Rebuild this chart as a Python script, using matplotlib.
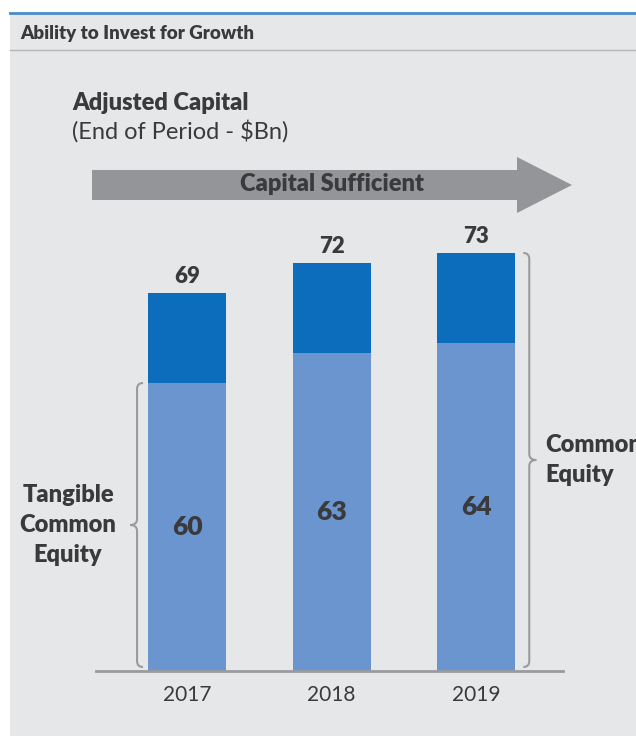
import matplotlib.pyplot as plt
from matplotlib.path import Path
from matplotlib.patches import PathPatch, Rectangle, Polygon
from matplotlib.lines import Line2D

# data
years = ["2017", "2018", "2019"]
tangible = [60, 63, 64]      # tangible common equity ($Bn)
other = [9, 9, 9]            # rest of adjusted capital ($Bn)
totals = [t + o for t, o in zip(tangible, other)]

W, H = 636, 736
PANEL = "#e6e7e9"
TXT = "#3a3a3c"
LIGHT = "#6a95cf"
DARK = "#0b6dbb"
GREY = "#9a9b9e"
BOLD = "heavy"
plt.rcParams["font.family"] = ["Lato", "DejaVu Sans"]

fig = plt.figure(figsize=(W / 100, H / 100), dpi=100)
fig.patch.set_facecolor("white")


def fx(p):
    return p / W


def fy(p):
    return 1 - p / H


# panel, top rule and header separator
fig.add_artist(Rectangle((fx(10), 0), 1 - fx(10), fy(13), transform=fig.transFigure,
                         facecolor=PANEL, edgecolor="none", zorder=0))
fig.add_artist(Line2D([fx(10), 1], [fy(13), fy(13)], transform=fig.transFigure,
                      color="#4a8cc6", lw=2))
fig.add_artist(Line2D([fx(10), 1], [fy(50), fy(50)], transform=fig.transFigure,
                      color="#b3b5b8", lw=1))
fig.text(fx(20), fy(33), "Ability to Invest for Growth", fontsize=13.5, fontweight=BOLD,
         color=TXT, va="center")

fig.text(fx(72), fy(103), "Adjusted Capital", fontsize=17, fontweight=BOLD,
         color=TXT, va="center")
fig.text(fx(72), fy(131), "(End of Period - $Bn)", fontsize=17, color=TXT, va="center")

# big arrow
arrow_px = [(92, 170), (517, 170), (517, 157), (572, 185), (517, 213), (517, 200), (92, 200)]
fig.add_artist(Polygon([(fx(a), fy(b)) for a, b in arrow_px], closed=True,
                       transform=fig.transFigure, facecolor="#939598", edgecolor="none"))
fig.text(fx(332), fy(184), "Capital Sufficient", fontsize=17, fontweight=BOLD,
         color=TXT, ha="center", va="center")

# bars
ax_l, ax_r, ax_b, ax_t = 96, 563, 671, 140
ax = fig.add_axes([fx(ax_l), fy(ax_b), (ax_r - ax_l) / W, (ax_b - ax_t) / H])
ax.set_facecolor("none")
ylo = 31.2
ax.set_ylim(ylo, ylo + (ax_b - ax_t) / 10)
ax.set_xlim(-0.63, 2.60)
x = list(range(len(years)))
bw = 0.54
ax.bar(x, tangible, width=bw, color=LIGHT)
ax.bar(x, other, bottom=tangible, width=bw, color=DARK)

for s in ["top", "left", "right"]:
    ax.spines[s].set_visible(False)
ax.spines["bottom"].set_color(GREY)
ax.spines["bottom"].set_linewidth(2)
ax.set_yticks([])
ax.set_xticks(x, years)
ax.tick_params(axis="x", length=0, pad=10, labelsize=15, labelcolor=TXT)

for i in x:
    ax.text(i, (ylo + tangible[i]) / 2, str(tangible[i]), ha="center", va="center",
            fontsize=19, fontweight=BOLD, color=TXT)
    ax.annotate(str(totals[i]), (i, totals[i]), xytext=(0, 12), textcoords="offset points",
                ha="center", va="center", fontsize=16, fontweight=BOLD, color=TXT)

# curly braces
xpp = (ax.get_xlim()[1] - ax.get_xlim()[0]) / (ax_r - ax_l)
ypp = 0.1


def brace(xline, ytop, ybot, sign):
    e, t, r = 6 * xpp * sign, 7 * xpp * sign, 6 * ypp
    ymid = (ytop + ybot) / 2
    verts = [(xline + e, ytop), (xline, ytop), (xline, ytop - r),
             (xline, ymid + r), (xline, ymid), (xline - t, ymid),
             (xline, ymid), (xline, ymid - r),
             (xline, ybot + r), (xline, ybot), (xline + e, ybot)]
    codes = [Path.MOVETO, Path.CURVE3, Path.CURVE3, Path.LINETO, Path.CURVE3, Path.CURVE3,
             Path.CURVE3, Path.CURVE3, Path.LINETO, Path.CURVE3, Path.CURVE3]
    ax.add_patch(PathPatch(Path(verts, codes), facecolor="none", edgecolor=GREY,
                           lw=1.5, clip_on=False))
    return ymid


ym = brace(x[0] - bw / 2 - 11 * xpp, tangible[0], ylo + 0.4, 1)
ax.text(x[0] - bw / 2 - 80 * xpp, ym, "Tangible\nCommon\nEquity", ha="center", va="center",
        fontsize=17, fontweight=BOLD, color=TXT, linespacing=1.45)
ym = brace(x[2] + bw / 2 + 14 * xpp, totals[2], ylo + 0.4, -1)
ax.text(x[2] + bw / 2 + 30 * xpp, ym, "Common\nEquity", ha="left", va="center",
        fontsize=17, fontweight=BOLD, color=TXT, linespacing=1.45, clip_on=False)

fig.savefig("out.png", dpi=100)
